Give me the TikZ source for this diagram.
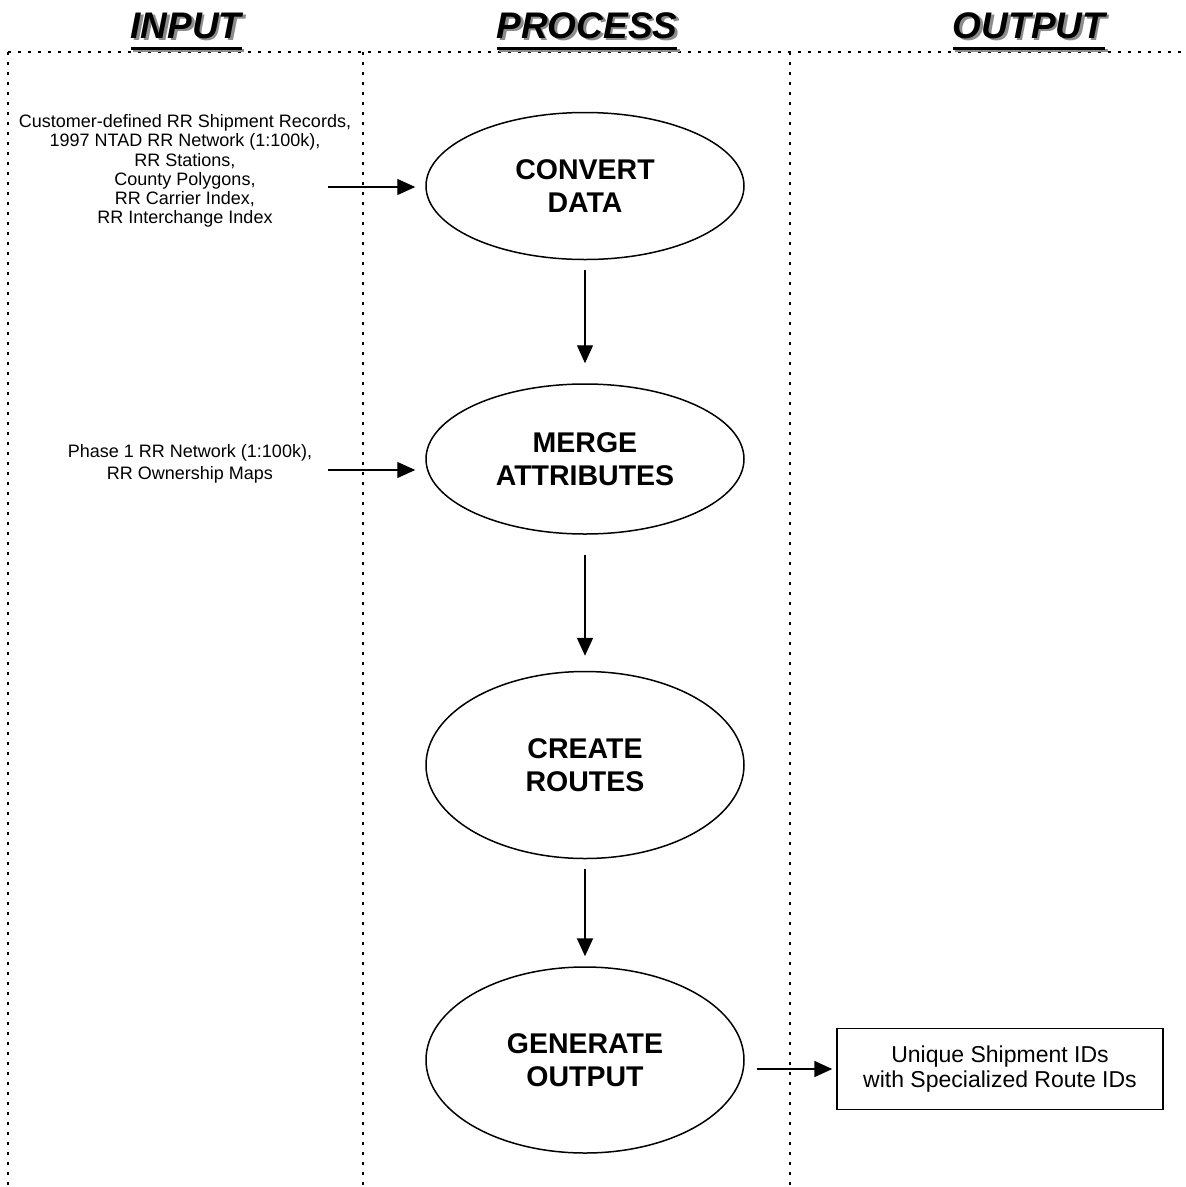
\documentclass[tikz,border=0pt]{standalone}
\usepackage{fontspec}
\setmainfont{Liberation Sans}
\usetikzlibrary{shapes.geometric, arrows.meta, positioning}

\newcommand\ulbox[1]{\setbox0=\hbox{#1}\rlap{\raisebox{-11.5pt}{\rule{\wd0}{3pt}}}\box0}
\newcommand\colhead[1]{\rlap{\hspace{2.5pt}\raisebox{-2.5pt}{\color{black!45}\ulbox{#1}}}\ulbox{#1}}

\begin{document}
\begin{tikzpicture}[x=1pt, y=-1pt,
    process/.style={ellipse, draw, line width=1.5pt, inner sep=0pt, minimum width=318pt,
      align=center, font=\fontsize{28.5}{33}\selectfont\bfseries},
    source/.style={align=center, inner sep=0pt, font=\fontsize{18}{19.3}\selectfont},
    result/.style={draw, line width=1.5pt, minimum width=326pt, minimum height=81pt,
      align=center, font=\fontsize{23}{25.5}\selectfont},
    heading/.style={anchor=base, inner sep=0pt, font=\fontsize{37}{40}\selectfont\bfseries\itshape},
    column/.style={line width=2.2pt, dash pattern=on 2.5pt off 7.5pt},
    feed/.style={-{Triangle[length=18pt,width=16pt]}, line width=1.2pt},
    flow/.style={-{Triangle[length=18pt,width=16pt]}, line width=2pt}]

    \path [use as bounding box, fill=white] (0,0) rectangle (1186,1187);

    \draw [column] (8,52) -- (1186,52);
    \foreach \x in {8,363,790}
      \draw [column] (\x,52) -- (\x,1187);

    \node [heading] (input-head) at (186,38) {\colhead{INPUT}};
    \node [heading] (process-head) at (587,38) {\colhead{PROCESS}};
    \node [heading] (output-head) at (1029,38) {\colhead{OUTPUT}};

    \foreach \n/\t/\y/\h in {convert/{CONVERT\\DATA}/186/147,
        merge/{MERGE\\ATTRIBUTES}/459/150,
        create/{CREATE\\ROUTES}/765/187,
        generate/{GENERATE\\OUTPUT}/1060/186}
      \node [process, minimum height=\h pt] (\n) at (585,\y) {\t};

    \node [source] (records) at (185,171) {Customer-defined RR Shipment Records,\\
      1997 NTAD RR Network (1:100k),\\RR Stations,\\County Polygons,\\
      RR Carrier Index,\\RR Interchange Index};
    \node [source, font=\fontsize{18}{21.5}\selectfont] (phase) at (190,464)
      {Phase 1 RR Network (1:100k),\\RR Ownership Maps};
    \node [result] (route-ids) at (1000,1069) {Unique Shipment IDs\\with Specialized Route IDs};

    \coordinate (records-end) at (328,187);
    \coordinate (phase-end) at (328,470);

    \draw [feed, shorten >=10pt] (records-end) -- (records-end -| convert.west);
    \draw [feed, shorten >=10pt] (phase-end) -- (phase-end -| merge.west);

    \draw [feed, shorten <=10pt, shorten >=20pt] (convert) -- (merge);
    \draw [flow, shorten <=20pt, shorten >=15pt] (merge) -- (create);
    \draw [flow, shorten <=10pt, shorten >=10pt] (create) -- (generate);

    \draw [flow, line width=1.8pt, shorten <=12pt, shorten >=4pt]
      (generate.east |- route-ids) -- (route-ids);

\end{tikzpicture}
\end{document}
